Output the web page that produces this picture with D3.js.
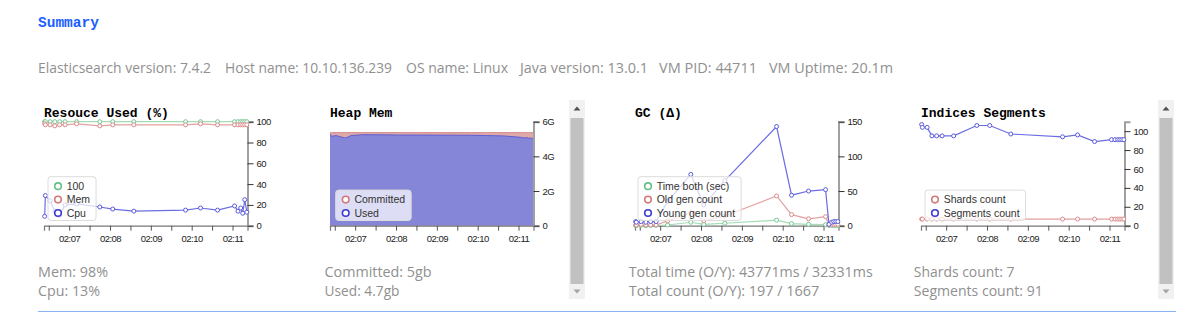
<!DOCTYPE html>
<html><head><meta charset="utf-8">
<script src="https://cdn.jsdelivr.net/npm/d3@7"></script>
<style>
body{margin:0;background:#fff;}
svg{display:block;}
.info{font-family:"Open Sans","Noto Sans",sans-serif;font-size:14px;fill:#909090;}
.ctitle{font-family:"Liberation Mono",monospace;font-weight:bold;font-size:13px;fill:#000;}
.tick text{font-family:"Liberation Sans",Arial,sans-serif;font-size:9.5px;fill:#222;letter-spacing:-0.5px;}
.leg{font-family:"Liberation Sans",Arial,sans-serif;font-size:10.5px;fill:#333;}
</style></head><body><svg id="c" width="1202" height="321"></svg>
<script>
// ---------------- data ----------------
const sampleTimes = ["02:06:24","02:06:25","02:06:32","02:06:39","02:06:46","02:06:54","02:07:11","02:07:45","02:08:04","02:08:35","02:09:51","02:10:13","02:10:38","02:11:03","02:11:08","02:11:12","02:11:15","02:11:18","02:11:21"];
const domainStart = "02:06:23", domainEnd = "02:11:22";

const resHundred = [100,100,100,100,100,100,100,100,100,100,100,100,100,100,100,100,100,100,100];
const resMem     = [98,97,97,96,97,97,98,96,97,97,97,98,97,97,97,97,97,97,97];
const resCpu     = [9,29,24,14,10,20,21,18,16,14,15,17,15,19,14,17,12,25,13];

const heapCommitted = [5.37,5.37,5.37,5.37,5.37,5.37,5.37,5.37,5.37,5.37,5.37,5.37,5.37,5.37,5.37,5.37,5.37,5.37,5.37]; // 1e9 bytes
const heapUsed      = [5.26,5.15,5.2,5.12,5.06,5.2,5.25,5.24,5.23,5.23,5.22,5.2,5.18,5.1,5.06,5.08,5.05,5.05,5.04];

const gcTime  = [0,0,0.5,0,0.5,0.5,1,5,2,3.5,8,3,2,1.5,0.5,0.5,0.5,0.5,0.5];
const gcOld   = [1,1,2,1,1,1,7,19,7,14,43,16,10,13,1,2,2,2,2];
const gcYoung = [6,5,6,5,6,6,35,74,30,65,143,44,50,52,2,5,6,6,6];

const segShards   = [7,7,7,7,7,7,7,7,7,7,7,7,7,7,7,7,7,7,7];
const segSegments = [107,104,104,95,95,95,95,106,106,97,94,96,89,91,91,91,91,91,91];

const resTicks  = [0,20,40,60,80,100];
const heapTicks = [0,2,4,6];
const heapTickLabels = ["0","2G","4G","6G"];
const gcTicks   = [0,50,100,150];
const segTicks  = [0,20,40,60,80,100];

const infoItems = ["Elasticsearch version: 7.4.2","Host name: 10.10.136.239","OS name: Linux","Java version: 13.0.1","VM PID: 44711","VM Uptime: 20.1m"];
const statsLines = [
  ["Mem: 98%","Cpu: 13%"],
  ["Committed: 5gb","Used: 4.7gb"],
  ["Total time (O/Y): 43771ms / 32331ms","Total count (O/Y): 197 / 1667"],
  ["Shards count: 7","Segments count: 91"]
];
const chartTitles = ["Resouce Used (%)","Heap Mem","GC (\u0394)","Indices Segments"];

// ---------------- layout ----------------
const svg = d3.select("#c");
svg.append("rect").attr("width",1202).attr("height",321).attr("fill","#fff");
const parse = d3.timeParse("%H:%M:%S");
const times = sampleTimes.map(parse);
const TOP = 121.7, BOTTOM = 225.7, W = 203.5;
const lefts = [44, 330, 635, 921];

const C = {
  green:{line:"#a3dcb5", mark:"#72c892", leg:"#62c086"},
  red:{line:"#e3a0a0", mark:"#dc8a8a", leg:"#d27a7a"},
  blue:{line:"#6c6ce2", mark:"#5a5adc", leg:"#3a3ad0"}
};

svg.append("text").attr("x",38).attr("y",27)
  .style("font-family","'Liberation Mono',monospace").style("font-weight","bold")
  .style("font-size","14.5px").attr("fill","#1b5eff").text("Summary");

const infoX = [38,225,406,520,659,769];
const infoW = [173,167,102,128,98,124];
infoItems.forEach((t,i)=>{
  svg.append("text").attr("class","info").attr("x",infoX[i]).attr("y",73)
    .attr("textLength",infoW[i]).attr("lengthAdjust","spacingAndGlyphs").text(t);
});

const statX = [38,324.5,628.7,913.8];
const statW = [[70,62],[107,75],[244,190.6],[100.7,129]];
statsLines.forEach((pair,i)=>{
  pair.forEach((t,j)=>{
    svg.append("text").attr("class","info").attr("x",statX[i]).attr("y",277+j*19)
      .attr("textLength",statW[i][j]).attr("lengthAdjust","spacingAndGlyphs").text(t);
  });
});

chartTitles.forEach((t,i)=>{
  svg.append("text").attr("class","ctitle").attr("x",lefts[i]).attr("y",116.5).text(t);
});

function makeX(left){
  return d3.scaleTime().domain([parse(domainStart),parse(domainEnd)]).range([left,left+W]);
}
function drawAxes(g,x,y,tickVals,tickFmt){
  const xa = g.append("g").attr("transform",`translate(0,${BOTTOM})`)
    .call(d3.axisBottom(x).ticks(d3.timeSecond.every(30))
      .tickFormat(d=> d.getSeconds()===0 ? d3.timeFormat("%H:%M")(d) : "")
      .tickSize(5).tickSizeOuter(5));
  xa.select(".domain").attr("stroke","#777").attr("stroke-width",1.2);
  xa.selectAll(".tick line").attr("stroke","#555");
  xa.selectAll(".tick text").attr("dy","0.9em");
  const ya = g.append("g").attr("transform",`translate(${x.range()[1]},0)`)
    .call(d3.axisRight(y).tickValues(tickVals).tickFormat(tickFmt).tickSize(6).tickSizeOuter(6));
  ya.select(".domain").attr("stroke","#a0a0a0").attr("stroke-width",2);
  ya.selectAll(".tick line").attr("stroke","#333");
  ya.selectAll(".tick text").attr("x",9);
}
function drawSeries(g,x,y,vals,col){
  const data = vals.map((v,i)=>({t:times[i],v}));
  g.append("path").datum(data).attr("fill","none").attr("stroke",col.line).attr("stroke-width",1.2)
    .attr("d",d3.line().x(d=>x(d.t)).y(d=>y(d.v)));
  g.selectAll(null).data(data).enter().append("circle")
    .attr("cx",d=>x(d.t)).attr("cy",d=>y(d.v)).attr("r",2)
    .attr("fill","#fff").attr("stroke",col.mark).attr("stroke-width",1);
}
function drawLegend(g,left,items){
  const n = items.length;
  const rowY = i => 213 - (n-1-i)*13.4;
  const rect = g.append("rect").attr("x",left+4).attr("y",rowY(0)-9.5).attr("height",220.5-(rowY(0)-9.5))
    .attr("rx",3).attr("fill","rgba(255,255,255,0.72)").attr("stroke","#dcdcdc");
  let maxW = 0;
  items.forEach((it,i)=>{
    g.append("circle").attr("cx",left+14).attr("cy",rowY(i)).attr("r",3.3)
      .attr("fill","#fff").attr("stroke",it.col.leg).attr("stroke-width",1.6);
    const t = g.append("text").attr("class","leg").attr("x",left+22.7).attr("y",rowY(i)+3.8).text(it.name);
    maxW = Math.max(maxW, t.node().getComputedTextLength());
  });
  rect.attr("width",18.7+maxW+6);
}

// Chart 1: Resource used
(function(){
  const g = svg.append("g"), L = lefts[0];
  const x = makeX(L), y = d3.scaleLinear().domain([0,100]).range([BOTTOM,TOP]);
  drawAxes(g,x,y,resTicks,d3.format("d"));
  drawSeries(g,x,y,resHundred,C.green);
  drawSeries(g,x,y,resMem,C.red);
  drawSeries(g,x,y,resCpu,C.blue);
  drawLegend(g,L,[{name:"100",col:C.green},{name:"Mem",col:C.red},{name:"Cpu",col:C.blue}]);
})();

// Chart 2: Heap
(function(){
  const g = svg.append("g"), L = lefts[1];
  const x = makeX(L), y = d3.scaleLinear().domain([0,6]).range([BOTTOM,TOP]);
  const dc = heapCommitted.map((v,i)=>({t:times[i],v}));
  const du = heapUsed.map((v,i)=>({t:times[i],v}));
  const xs = d=>x(d.t);
  const ext = arr => [{t:parse(domainStart),v:arr[0].v},...arr,{t:parse(domainEnd),v:arr[arr.length-1].v}];
  const area = d3.area().x(xs).y0(BOTTOM).y1(d=>y(d.v));
  const line = d3.line().x(xs).y(d=>y(d.v));
  g.append("path").attr("d",area(ext(dc))).attr("fill","#dfa9a9");
  g.append("path").attr("d",line(ext(dc))).attr("fill","none").attr("stroke","#d48c8c");
  g.append("path").attr("d",area(ext(du))).attr("fill","#8686d9");
  g.append("path").attr("d",line(ext(du))).attr("fill","none").attr("stroke","#5d5dd4");
  drawAxes(g,x,y,heapTicks,(d,i)=>heapTickLabels[i]);
  drawLegend(g,L+1.7,[{name:"Committed",col:C.red},{name:"Used",col:C.blue}]);
})();

// Chart 3: GC
(function(){
  const g = svg.append("g"), L = lefts[2];
  const x = makeX(L), y = d3.scaleLinear().domain([0,150]).range([BOTTOM,TOP]);
  drawAxes(g,x,y,gcTicks,d3.format("d"));
  drawSeries(g,x,y,gcTime,C.green);
  drawSeries(g,x,y,gcOld,C.red);
  drawSeries(g,x,y,gcYoung,C.blue);
  drawLegend(g,L-1,[{name:"Time both (sec)",col:C.green},{name:"Old gen count",col:C.red},{name:"Young gen count",col:C.blue}]);
})();

// Chart 4: Segments
(function(){
  const g = svg.append("g"), L = lefts[3];
  const x = makeX(L), y = d3.scaleLinear().domain([0,110]).range([BOTTOM,TOP]);
  drawAxes(g,x,y,segTicks,d3.format("d"));
  drawSeries(g,x,y,segShards,C.red);
  drawSeries(g,x,y,segSegments,C.blue);
  drawLegend(g,L,[{name:"Shards count",col:C.red},{name:"Segments count",col:C.blue}]);
})();

// scrollbars
[569,1158].forEach(sx=>{
  svg.append("rect").attr("x",sx).attr("y",100).attr("width",16).attr("height",199).attr("fill","#f1f1f1");
  svg.append("rect").attr("x",sx+1.5).attr("y",118).attr("width",13).attr("height",166).attr("fill","#c1c1c1");
  const cx = sx+8;
  svg.append("path").attr("d",`M${cx-3.5},${110.5}L${cx+3.5},${110.5}L${cx},${106.5}Z`).attr("fill","#505050");
  svg.append("path").attr("d",`M${cx-3.5},${289.5}L${cx+3.5},${289.5}L${cx},${293.5}Z`).attr("fill","#a3a3a3");
});

// bottom rule
svg.append("rect").attr("x",38).attr("width",1138).attr("y",311).attr("height",1).attr("fill","#8ab4f8");
</script></body></html>
